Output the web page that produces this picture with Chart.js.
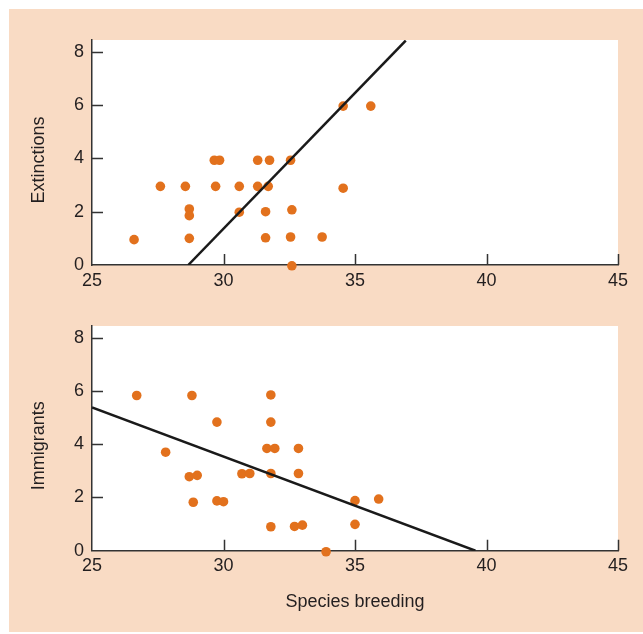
<!DOCTYPE html>
<html>
<head>
<meta charset="utf-8">
<script src="https://cdn.jsdelivr.net/npm/chart.js@4"></script>
<style>
  body { margin: 0; background: #fff; }
  #peach { position: absolute; left: 9px; top: 9px; right: 0; bottom: 2px; background: #f9dbc4; }
  canvas { position: absolute; left: 0; }
  #c1 { top: 0; }
  #c2 { top: 300px; }
</style>
</head>
<body>
<div id="peach"></div>
<canvas id="c1" width="643" height="300"></canvas>
<canvas id="c2" width="643" height="334"></canvas>
<script>
// species breeding (x) vs extinctions (y)
var ext_x = [26.6, 27.6, 28.55, 28.7, 28.7, 28.7, 29.65, 29.85, 29.7, 30.6, 30.6, 31.3, 31.75, 31.3, 31.7, 31.6, 31.6,
  32.55, 32.6, 32.55, 32.6, 33.75, 34.55, 34.55, 35.6]
var ext_y = [0.95, 2.95, 2.95, 2.1, 1.85, 1.0, 3.93, 3.93, 2.95, 2.95, 1.98, 3.93, 3.93, 2.95, 2.95, 2.0, 1.02,
  3.93, 2.07, 1.05, -0.03, 1.05, 5.96, 2.88, 5.96]
var ext_fit_x = [28.66, 36.93]
var ext_fit_y = [0, 8.42]

// species breeding (x) vs immigrants (y)
var imm_x = [26.7, 28.8, 27.8, 28.7, 29.0, 28.85, 29.75, 29.75, 30.0, 30.7, 31.0, 31.8, 31.8, 31.65, 31.95, 31.8, 31.8,
  32.85, 32.85, 32.7, 33.0, 33.9, 35.0, 35.0, 35.9]
var imm_y = [5.83, 5.83, 3.7, 2.78, 2.83, 1.82, 4.83, 1.87, 1.84, 2.89, 2.9, 5.85, 4.83, 3.84, 3.84, 2.9, 0.9,
  3.84, 2.9, 0.91, 0.96, -0.04, 1.88, 0.99, 1.94]
var imm_fit_x = [25, 39.58]
var imm_fit_y = [5.38, 0]

var x_ticks = [25, 30, 35, 40, 45]
var y_ticks = [0, 2, 4, 6, 8]

var dotColor = '#e2711d'
var axisColor = '#333333'
var textColor = '#231f20'
var font = { family: '"Liberation Sans", Arial, sans-serif', size: 18 }

function pts(xs, ys) {
  return xs.map(function (x, i) { return { x: x, y: ys[i] } })
}

// white plot area
var plotBg = {
  id: 'plotBg',
  beforeDraw: function (chart) {
    var a = chart.chartArea, ctx = chart.ctx
    ctx.save()
    ctx.fillStyle = '#ffffff'
    ctx.fillRect(a.left, a.top, a.right - a.left, a.bottom - a.top)
    ctx.restore()
  }
}

// short ticks pointing into the plot
var innerTicks = {
  id: 'innerTicks',
  afterDraw: function (chart) {
    var ctx = chart.ctx, a = chart.chartArea
    var xs = chart.scales.x, ys = chart.scales.y
    ctx.save()
    ctx.strokeStyle = axisColor
    ctx.lineWidth = 1.5
    ctx.beginPath()
    x_ticks.forEach(function (v) {
      if (v === xs.min) return
      var px = Math.round(xs.getPixelForValue(v)) + 0.5
      ctx.moveTo(px, a.bottom)
      ctx.lineTo(px, a.bottom - 11)
    })
    y_ticks.forEach(function (v) {
      if (v === 0) return
      var py = Math.round(ys.getPixelForValue(v)) + 0.5
      ctx.moveTo(a.left, py)
      ctx.lineTo(a.left + 11, py)
    })
    ctx.stroke()
    ctx.restore()
  }
}

function setChart(id, points, fitX, fitY, yTitle, opts) {
  var ctx = document.getElementById(id).getContext('2d')
  return new Chart(ctx, {
    type: 'scatter',
    data: {
      datasets: [{
        type: 'line',
        data: pts(fitX, fitY),
        borderColor: '#1a1a1a',
        borderWidth: 2.5,
        pointRadius: 0,
        order: 0
      }, {
        data: points,
        backgroundColor: dotColor,
        borderWidth: 0,
        pointRadius: 4.8,
        clip: false,
        order: 1
      }]
    },
    options: {
      responsive: false,
      animation: false,
      layout: { padding: { top: opts.top, right: 25, left: 0, bottom: 0 } },
      plugins: {
        legend: { display: false },
        tooltip: { enabled: false }
      },
      scales: {
        x: {
          type: 'linear',
          min: 25,
          max: 45,
          grid: { display: false, drawTicks: false },
          border: { display: true, color: axisColor, width: 1.5 },
          ticks: {
            stepSize: 5,
            padding: 5,
            color: textColor,
            font: font,
            maxRotation: 0
          },
          title: {
            display: !!opts.xTitle,
            text: opts.xTitle || '',
            color: textColor,
            font: font,
            padding: { top: 0, bottom: 21 }
          },
          afterFit: function (s) { s.height = opts.xHeight }
        },
        y: {
          min: 0,
          max: 8.44,
          grid: { display: false, drawTicks: false },
          border: { display: true, color: axisColor, width: 1.5 },
          ticks: {
            stepSize: 2,
            includeBounds: false,
            padding: 8,
            color: textColor,
            font: font
          },
          title: {
            display: true,
            text: yTitle,
            color: textColor,
            font: font,
            padding: { top: 28, bottom: 0 }
          },
          afterFit: function (s) { s.width = 92 }
        }
      }
    },
    plugins: [plotBg, innerTicks]
  })
}

setChart('c1', pts(ext_x, ext_y), ext_fit_x, ext_fit_y, 'Extinctions   ', { top: 40, xHeight: 35 })
setChart('c2', pts(imm_x, imm_y), imm_fit_x, imm_fit_y, 'Immigrants   ', { top: 26, xHeight: 83.3, xTitle: 'Species breeding' })
</script>
</body>
</html>
